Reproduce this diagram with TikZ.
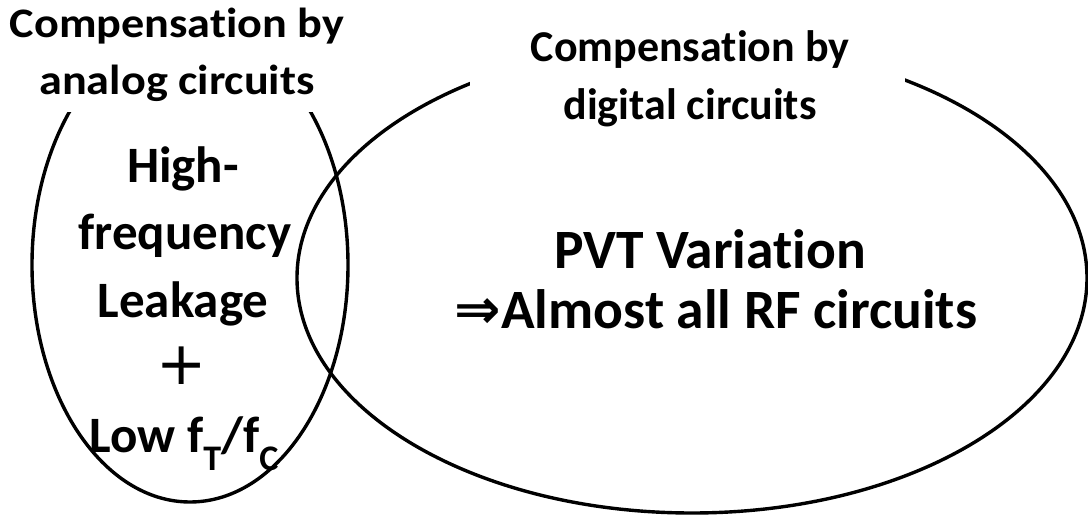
\documentclass[tikz,border=0pt]{standalone}
\usepackage{fontspec}
\setmainfont{Carlito}[BoldFont={Carlito Bold},Ligatures=NoCommon]
\newfontfamily\widefont{Carlito}[BoldFont={Carlito Bold},Ligatures=NoCommon,FakeStretch=1.1]
\newfontfamily\arrowfont{DejaVu Sans}
\begin{document}
\begin{tikzpicture}[x=1pt,y=-1pt,
  ring/.style={draw=black,line width=3.4pt},
  lbl/.style={anchor=base,inner sep=0pt,font=\widefont\bfseries\fontsize{42}{42}\selectfont},
  rlbl/.style={anchor=base,inner sep=0pt,font=\bfseries\fontsize{44}{44}\selectfont},
  big/.style={anchor=base,inner sep=0pt,font=\bfseries\fontsize{51}{51}\selectfont},
  huge/.style={anchor=base,inner sep=0pt,font=\bfseries\fontsize{55.5}{55.5}\selectfont}]
\useasboundingbox (0,0) rectangle (1088,516);
\fill[white] (0,0) rectangle (1088,516);

% the two sets
\draw[ring] (190,265) ellipse [x radius=158, y radius=237];
\draw[ring] (692,278) ellipse [x radius=395, y radius=235];

% white panels behind the set titles
\fill[white] (60,0) rectangle (320,112);
\fill[white] (470,0) rectangle (905,95);

% title of the analog set
\node[lbl] (at1) at (177,38) {Compensation by};
\node[lbl] (at2) at (177,95) {analog circuits};

% title of the digital set
\node[rlbl] (dt1) at (690,62) {Compensation by};
\node[rlbl] (dt2) at (690,120) {digital circuits};

% contents of the analog set
\node[big] (a1) at (183,183) {High-};
\node[big] (a2) at (185,250) {frequency};
\node[big] (a3) at (183,317) {Leakage};
\node[inner sep=0pt,font=\arrowfont\fontsize{60}{60}\selectfont] (a4) at (182,366) {+};
\node[big] (a5) at (184,452) {Low f\raisebox{-0.36em}{\fontsize{36}{36}\selectfont T}/f\raisebox{-0.36em}{\fontsize{36}{36}\selectfont C}};

% contents of the digital set
\node[huge] (d1) at (710,268) {PVT Variation};
\node[huge] (d2) at (716,328) {{\arrowfont\bfseries ⇒}Almost all RF circuits};
\end{tikzpicture}
\end{document}
